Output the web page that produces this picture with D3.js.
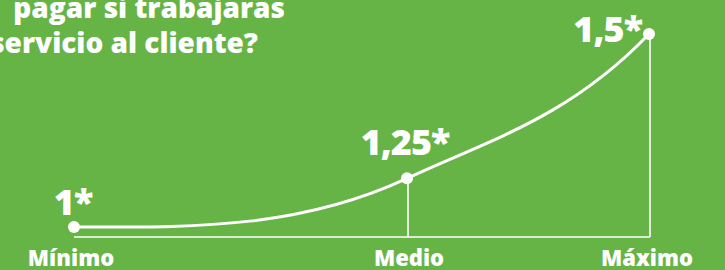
<!DOCTYPE html>
<html>
<head>
<meta charset="utf-8">
<script src="https://cdn.jsdelivr.net/npm/d3@7"></script>
<style>
  html, body { margin: 0; padding: 0; background: #66b446; overflow: hidden; }
  svg { display: block; }
  text { font-family: "Open Sans", Inter, sans-serif; fill: #ffffff; }
</style>
</head>
<body>
<svg id="chart" width="725" height="270"></svg>
<script>
// ---- data ----
const categories = ["Mínimo", "Medio", "Máximo"];
const values = [1, 1.25, 1.5];
const valueLabels = ["1*", "1,25*", "1,5*"];
const titleLines = ["pagar si trabajaras", "servicio al cliente?"];

// ---- layout / style ----
const W = 725, H = 270;
const bg = "#66b446";
const baselineY = 237;
const labelOffsets = [
  { anchor: "middle", dx: -1, dy: -12 },
  { anchor: "middle", dx: -2, dy: -23 },
  { anchor: "end", dx: -7, dy: 8 }
];
const catNudge = [-3, 2, -2];

const svg = d3.select("#chart");
svg.append("rect").attr("width", W).attr("height", H).attr("fill", bg);

// scales
const x = d3.scaleOrdinal().domain(categories).range([74, 407, 649]);
const y = d3.scalePow().exponent(6.5).domain([1, 1.5]).range([227, 34]);

const pts = categories.map((c, i) => ({ c, v: values[i], label: valueLabels[i], i }));

// custom Hermite curve: flat start, eased interior and end tangents
function curveRamp(context) {
  let P = [];
  return {
    areaStart() {}, areaEnd() {},
    lineStart() { P = []; },
    point(px, py) { P.push([+px, +py]); },
    lineEnd() {
      const n = P.length;
      if (!n) return;
      const h = [], s = [];
      for (let i = 0; i < n - 1; i++) {
        h.push(P[i + 1][0] - P[i][0]);
        s.push((P[i + 1][1] - P[i][1]) / h[i]);
      }
      const m = new Array(n).fill(0);
      for (let i = 1; i < n - 1; i++) {
        m[i] = 1.15 * (s[i - 1] * h[i] + s[i] * h[i - 1]) / (h[i - 1] + h[i]);
      }
      if (n > 1) m[n - 1] = 1.75 * s[n - 2];
      context.moveTo(P[0][0], P[0][1]);
      for (let i = 0; i < n - 1; i++) {
        const d = h[i] / 3;
        context.bezierCurveTo(P[i][0] + d, P[i][1] + m[i] * d,
                              P[i + 1][0] - d, P[i + 1][1] - m[i + 1] * d,
                              P[i + 1][0], P[i + 1][1]);
      }
    }
  };
}

// baseline
svg.append("line")
  .attr("x1", x(categories[0])).attr("x2", x(categories[categories.length - 1]) + 1)
  .attr("y1", baselineY).attr("y2", baselineY)
  .attr("stroke", "#fff").attr("stroke-width", 1.6);

// drop lines (all except first)
svg.selectAll("line.drop").data(pts.slice(1)).join("line")
  .attr("class", "drop")
  .attr("x1", d => x(d.c) + 1).attr("x2", d => x(d.c) + 1)
  .attr("y1", d => y(d.v)).attr("y2", baselineY)
  .attr("stroke", "#fff").attr("stroke-width", 1.6);

// curve
const line = d3.line().x(d => x(d.c)).y(d => y(d.v)).curve(curveRamp);
svg.append("path").datum(pts)
  .attr("d", line)
  .attr("fill", "none").attr("stroke", "#fff").attr("stroke-width", 3)
  .attr("stroke-linecap", "round");

// dots
svg.selectAll("circle.dot").data(pts).join("circle")
  .attr("class", "dot")
  .attr("cx", d => x(d.c)).attr("cy", d => y(d.v)).attr("r", 6)
  .attr("fill", "#fff");

// value labels
svg.selectAll("text.val").data(pts).join("text")
  .attr("class", "val")
  .attr("x", d => x(d.c) + labelOffsets[d.i].dx)
  .attr("y", d => y(d.v) + labelOffsets[d.i].dy)
  .attr("text-anchor", d => labelOffsets[d.i].anchor)
  .attr("font-size", 36).attr("font-weight", 800)
  .attr("letter-spacing", -1)
  .text(d => d.label);

// category labels
svg.selectAll("text.cat").data(pts).join("text")
  .attr("class", "cat")
  .attr("x", d => x(d.c) + catNudge[d.i])
  .attr("y", 266)
  .attr("text-anchor", "middle")
  .attr("font-size", 22).attr("font-weight", 800)
  .text(d => d.c);

// title (cut off at left, as in the source)
svg.append("text").attr("x", 285).attr("y", 18).attr("text-anchor", "end")
  .attr("font-size", 28).attr("font-weight", 800).text(titleLines[0]);
svg.append("text").attr("x", 258).attr("y", 53).attr("text-anchor", "end")
  .attr("font-size", 28).attr("font-weight", 800).text(titleLines[1]);
</script>
</body>
</html>
